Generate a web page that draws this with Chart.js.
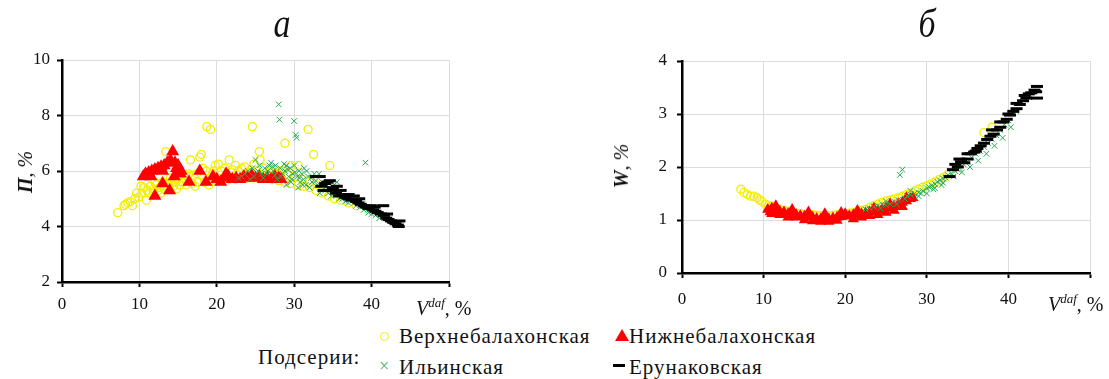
<!DOCTYPE html>
<html>
<head>
<meta charset="utf-8">
<script src="https://cdn.jsdelivr.net/npm/chart.js@4.4.0/dist/chart.umd.min.js"></script>
<style>
  body { margin: 0; background: #fff; width: 1109px; height: 379px; overflow: hidden; position: relative; font-family: 'Liberation Serif', 'Times New Roman', serif; color: #111; }
  canvas { position: absolute; top: 0; }
  .t { position: absolute; white-space: nowrap; line-height: 1; }
  .ttl { font-size: 40px; font-style: italic; width: 60px; text-align: center; transform: scaleX(0.85); }
  .ax { font-size: 20px; }
  .rot { transform: translate(-50%, -50%) rotate(-90deg); }
  .leg { font-size: 21px; letter-spacing: 1px; }
  .mk { position: absolute; }
</style>
</head>
<body>
<canvas id="chartA" width="470" height="320" style="left:0"></canvas>
<canvas id="chartB" width="509" height="320" style="left:600px"></canvas>

<div class="t ttl" style="left:252px; top:4px;">а</div>
<div class="t ttl" style="left:897px; top:4px;">б</div>

<div class="t ax rot" style="left:25px; top:172px;"><b><i>П</i></b><i>, %</i></div>
<div class="t ax rot" style="left:621px; top:166px;"><b><i>W</i></b><i>, %</i></div>
<div class="t ax" style="left:416px; top:296px;"><i>V</i><sup style="font-size:13px; font-style:italic;">daf</sup>, %</div>
<div class="t ax" style="left:1048px; top:292px;"><i>V</i><sup style="font-size:13px; font-style:italic;">daf</sup>, %</div>

<div class="t leg" style="left:258px; top:347px;">Подсерии:</div>
<div class="mk" style="left:380px; top:332px; width:9px; height:9px; border:1.3px solid #f2ee00; border-radius:50%; box-sizing:border-box;"></div>
<div class="t leg" style="left:399px; top:326px;">Верхнебалахонская</div>
<div class="t" style="left:379px; top:357px; font-size:18px; color:#3cb371;">×</div>
<div class="t leg" style="left:399px; top:357px;">Ильинская</div>
<div class="mk" style="left:615px; top:329px; width:0; height:0; border-left:7px solid transparent; border-right:7px solid transparent; border-bottom:12px solid #ff0000;"></div>
<div class="t leg" style="left:629px; top:326px;">Нижнебалахонская</div>
<div class="mk" style="left:613px; top:364px; width:12px; height:3px; background:#000;"></div>
<div class="t leg" style="left:629px; top:357px;">Ерунаковская</div>

<script>
// а: П vs Vdaf
const aVerkh = [[7.2,4.5],[8.0,4.75],[8.2,4.8],[8.5,4.85],[8.8,4.9],[9.1,4.75],[9.4,5.0],[9.6,5.2],[9.9,5.05],[10.3,5.2],[10.6,5.4],[10.9,4.95],[11.0,5.3],[11.4,5.45],[11.8,5.35],[12.2,5.5],[12.6,5.4],[13.0,5.6],[13.4,6.7],[13.8,5.55],[14.2,5.65],[14.6,5.6],[15.0,5.7],[15.4,5.85],[15.8,5.75],[16.2,5.8],[16.6,6.4],[17.0,5.85],[17.4,5.9],[17.8,6.5],[18.0,6.6],[18.2,6.1],[18.6,6.0],[18.7,7.6],[19.2,7.5],[19.4,5.9],[19.8,6.2],[20.2,6.25],[20.6,6.0],[21.0,6.1],[21.6,6.4],[21.8,5.95],[22.0,6.05],[22.4,6.2],[22.8,6.0],[23.2,6.1],[23.6,6.15],[24.0,5.95],[24.4,6.05],[24.6,7.6],[24.8,6.25],[25.2,6.0],[25.5,6.7],[25.6,6.4],[26.0,6.1],[26.4,5.95],[26.8,6.0],[27.2,6.05],[27.6,5.9],[28.0,5.9],[28.4,6.0],[28.8,7.0],[29.2,5.85],[29.6,6.2],[30.0,5.8],[30.5,6.2],[31.0,5.7],[31.8,7.5],[32.0,5.6],[32.5,6.6],[33.0,5.5],[34.6,6.2],
  [11.2,5.2],[11.8,5.25],[12.4,5.3],[13.2,5.35],[13.8,5.4],[14.4,5.45],[15.2,5.5],[16.0,5.5],[16.8,5.55],[17.6,5.6],[18.4,5.6],[19.2,5.65],[20.0,5.65],[20.8,5.7],[21.6,5.7],[22.4,5.7],[23.2,5.75],[24.0,5.75],[24.8,5.75],[25.6,5.75],[26.4,5.75],[27.2,5.7],[28.0,5.65],[28.8,5.6],[29.6,5.55],[30.4,5.5],[31.2,5.45],[32.0,5.4],[32.8,5.3],[33.6,5.2],[34.4,5.1],[35.2,5.0],[36.0,4.95],[37.0,4.85],[38.0,4.75],
  [10.2,5.45],[12.0,5.6],[12.8,5.2],[14.0,5.75],[14.8,5.35],[15.6,5.6],[16.4,5.9],[17.2,5.45],[18.0,5.85],[19.0,5.5],[19.6,6.0]];
const aNizh = [[10.5,5.8],[10.8,5.9],[11.2,5.95],[11.6,6.0],[12.0,6.05],[12.4,6.1],[12.8,6.15],[13.2,6.2],[13.6,6.3],[14.0,6.4],[14.3,6.7],[14.6,6.3],[15.0,6.2],[15.4,6.0],[14.8,6.1],[13.0,6.0],[11.5,5.8],
  [12.0,5.1],[13.0,5.55],[13.9,5.3],[14.5,5.8],[15.3,5.9],[16.4,5.6],[17.8,6.0],[18.6,5.6],[19.5,5.8],[20.0,5.7],[20.5,5.6],[21.0,5.75],[21.2,5.9],[21.5,5.8],[22.0,5.7],[22.5,5.75],[23.0,5.7],[23.5,5.8],[24.0,5.75],[24.5,5.85],[25.0,5.75],[25.5,5.8],[26.0,5.7],[26.5,5.75],[27.0,5.7],[27.5,5.8],[28.0,5.75],[28.3,5.7]];
const aIlyin = [[22.8,5.75],[23.2,5.8],[23.6,5.9],[24.0,6.0],[24.3,5.7],[24.6,6.1],[24.8,5.8],[25.0,6.4],[25.3,6.0],[25.5,6.2],[25.8,5.9],[26.0,5.75],[26.2,6.1],[26.5,5.9],[26.6,6.0],[26.8,6.2],[27.0,6.3],[27.2,6.15],[27.3,6.0],[27.5,5.85],[27.6,6.2],[27.8,5.7],[28.0,8.4],[28.1,7.85],[28.2,6.1],[28.3,5.8],[28.5,5.9],[28.7,6.25],[28.8,6.0],[29.0,6.2],[29.0,5.5],[29.2,6.05],[29.3,5.8],[29.5,6.1],[29.6,5.6],[29.7,5.7],[29.8,5.9],[30.0,6.2],[30.0,7.8],[30.1,5.95],[30.2,7.3],[30.3,7.2],[30.4,5.8],[30.5,5.4],[30.6,6.0],[30.7,5.75],[30.8,5.6],[31.0,5.9],[31.1,5.5],[31.2,5.7],[31.3,6.1],[31.5,5.5],[31.6,6.0],[31.8,5.8],[32.0,5.4],[32.2,5.75],[32.3,5.6],[32.6,5.9],[32.8,5.65],[33.0,5.5],[33.2,5.9],[33.3,5.2],[33.6,5.6],[34.0,5.3],[34.2,5.45],[34.4,5.2],[34.8,5.1],[35.0,5.3],[35.2,5.5],[35.5,5.6],[35.8,5.0],[36.0,5.2],[36.2,5.0],[36.6,4.9],[36.8,5.05],[37.0,4.85],[37.5,5.1],[37.8,4.95],[38.0,4.75],[38.5,4.7],[38.8,4.8],[39.0,4.6],[39.2,6.3],[39.6,4.5],[40.0,4.45],[40.2,4.6],[40.5,4.4],[41.0,4.3],[41.5,4.4]];
const aErun = [[32.8,5.8],[33.3,5.8],[33.5,5.45],[33.8,5.3],[34.0,5.55],[34.3,5.6],[34.6,5.65],[34.8,5.3],[35.0,5.4],[35.4,5.2],[35.5,5.45],[35.8,5.1],[36.0,5.3],[36.2,5.15],[36.6,5.05],[37.0,5.0],[37.0,5.15],[37.4,4.95],[37.7,5.1],[38.0,4.9],[38.3,4.85],[38.4,5.0],[38.6,4.8],[39.0,4.75],[39.3,4.7],[39.6,4.65],[39.9,4.75],[40.2,4.6],[40.4,4.7],[40.5,4.55],[40.8,4.5],[41.2,4.45],[41.5,4.75],[41.6,4.4],[41.9,4.3],[42.0,4.45],[42.2,4.25],[42.5,4.2],[42.8,4.15],[43.1,4.1],[43.4,4.05],[43.5,4.0],[43.6,4.2]];

// б: W vs Vdaf
const bVerkh = [[7.2,1.58],[7.6,1.52],[8.0,1.48],[8.4,1.45],[8.8,1.45],[9.2,1.42],[9.5,1.38],[9.8,1.35],[10.2,1.3],[10.6,1.27],[11.0,1.26],[11.5,1.22],[12.0,1.2],[12.5,1.18],[13.0,1.16],[13.5,1.15],[14.0,1.13],[14.5,1.12],[15.0,1.1],[15.5,1.1],[16.0,1.1],[16.5,1.09],[17.0,1.08],[17.5,1.08],[18.0,1.08],[18.5,1.09],[19.0,1.1],[19.5,1.1],[20.0,1.12],[20.5,1.13],[21.0,1.14],[21.5,1.16],[22.0,1.18],[22.5,1.2],[23.0,1.24],[23.5,1.27],[24.0,1.3],[24.5,1.33],[25.0,1.36],[25.5,1.38],[26.0,1.4],[26.5,1.42],[27.0,1.45],[27.5,1.48],[28.0,1.5],[28.5,1.55],[29.0,1.58],[29.5,1.62],[30.0,1.65],[30.5,1.68],[31.0,1.72],[31.5,1.76],[32.0,1.8],[32.5,1.85],[37.0,2.65],[38.0,2.75]];
const bNizh = [[10.5,1.2],[10.8,1.15],[11.0,1.22],[11.0,1.12],[11.5,1.18],[11.5,1.27],[12.0,1.16],[12.0,1.1],[12.5,1.15],[12.5,1.1],[13.0,1.12],[13.0,1.05],[13.5,1.1],[13.5,1.2],[14.0,1.1],[14.0,1.05],[14.5,1.08],[15.0,1.07],[15.0,1.0],[15.5,1.06],[15.5,1.15],[16.0,1.05],[16.0,0.98],[16.5,1.03],[17.0,1.02],[17.0,0.97],[17.5,1.0],[17.5,1.12],[18.0,1.02],[18.0,0.97],[18.5,1.04],[19.0,1.05],[19.0,0.99],[19.5,1.06],[19.5,1.14],[20.0,1.07],[20.0,1.12],[20.5,1.08],[21.0,1.1],[21.0,1.02],[21.5,1.1],[21.5,1.18],[22.0,1.12],[22.0,1.05],[22.5,1.13],[23.0,1.15],[23.0,1.08],[23.5,1.17],[23.5,1.22],[24.0,1.18],[24.0,1.1],[24.5,1.2],[25.0,1.22],[25.0,1.14],[25.5,1.24],[25.5,1.3],[26.0,1.26],[26.0,1.18],[26.5,1.3],[27.0,1.33],[27.0,1.25],[27.5,1.36],[27.5,1.42],[28.0,1.4],[28.3,1.42]];
const bIlyin = [[22.5,1.2],[23.0,1.22],[23.5,1.25],[24.0,1.27],[24.3,1.22],[24.5,1.3],[25.0,1.28],[25.0,1.35],[25.5,1.3],[26.0,1.35],[26.3,1.3],[26.5,1.38],[26.7,1.85],[27.0,1.95],[27.3,1.4],[27.6,1.45],[28.0,1.48],[28.0,1.55],[28.5,1.5],[29.0,1.52],[29.0,1.45],[29.3,1.5],[29.5,1.55],[30.0,1.6],[30.0,1.5],[30.3,1.62],[30.6,1.65],[30.8,1.58],[31.0,1.68],[31.0,1.6],[31.3,1.72],[31.6,1.75],[31.8,1.66],[32.0,1.78],[32.0,1.7],[32.3,1.8],[32.6,1.85],[33.0,1.88],[33.3,1.82],[33.5,1.92],[33.8,1.95],[34.0,1.98],[34.3,1.9],[34.5,2.05],[35.0,2.1],[35.3,2.0],[35.5,2.18],[36.0,2.25],[36.3,2.12],[36.5,2.3],[37.0,2.38],[37.3,2.25],[37.5,2.45],[38.0,2.52],[38.3,2.4],[38.5,2.6],[39.0,2.7],[39.3,2.55],[39.5,2.8],[40.0,2.88],[40.3,2.75],[41.0,3.05]];
const bErun = [[32.8,1.82],[33.2,1.95],[33.5,2.05],[33.8,2.0],[34.0,2.15],[34.2,2.1],[34.6,2.08],[35.0,2.15],[35.0,2.25],[35.4,2.25],[35.8,2.28],[36.0,2.3],[36.2,2.35],[36.6,2.4],[37.0,2.45],[37.4,2.52],[37.8,2.58],[38.0,2.7],[38.2,2.62],[38.6,2.7],[39.0,2.75],[39.0,2.85],[39.4,2.85],[39.8,2.9],[40.0,3.0],[40.2,2.98],[40.6,3.05],[41.0,3.1],[41.0,3.2],[41.4,3.18],[41.8,3.25],[42.0,3.35],[42.2,3.3],[42.5,3.38],[42.8,3.4],[43.2,3.45],[43.4,3.42],[43.5,3.52],[43.5,3.3]];

const seriesNames = ['Верхнебалахонская', 'Нижнебалахонская', 'Ильинская', 'Ерунаковская'];

const pts = arr => arr.map(p => ({ x: p[0], y: p[1] }));
const tickFont = { family: "'Liberation Serif', 'Times New Roman', serif", size: 17 };

function makeDatasets(verkh, nizh, ilyin, erun, triR) {
  return [
    { label: seriesNames[0], data: pts(verkh), order: 4, pointStyle: 'circle', pointRadius: 4,
      borderColor: '#f2ee00', backgroundColor: 'rgba(0,0,0,0)', borderWidth: 1.3 },
    { label: seriesNames[1], data: pts(nizh), order: 3, pointStyle: 'triangle', pointRadius: triR,
      borderColor: '#ff0000', backgroundColor: '#ff0000', borderWidth: 0 },
    { label: seriesNames[2], data: pts(ilyin), order: 2, pointStyle: 'crossRot', pointRadius: 4,
      borderColor: '#27a957', backgroundColor: '#27a957', borderWidth: 1 },
    { label: seriesNames[3], data: pts(erun), order: 1, pointStyle: 'line', pointRadius: 6,
      borderColor: '#000', backgroundColor: '#000', borderWidth: 3 }
  ];
}

function makeOptions(yMin, yMax, yStep, yW, xH, pad, yPad, xPad) {
  return {
    responsive: false,
    animation: false,
    events: [],
    layout: { padding: pad },
    plugins: { legend: { display: false }, tooltip: { enabled: false } },
    scales: {
      x: {
        type: 'linear', min: 0, max: 50,
        afterFit: s => { s.height = xH; },
        ticks: { stepSize: 10, padding: xPad, color: '#111', font: tickFont,
          callback: v => (v === 50 ? '' : v), maxRotation: 0 },
        grid: { color: '#dcdcdc', lineWidth: 1, tickColor: '#000', tickWidth: 2, tickLength: 5 },
        border: { color: '#000', width: 2.5 }
      },
      y: {
        min: yMin, max: yMax,
        afterFit: s => { s.width = yW; },
        ticks: { stepSize: yStep, padding: yPad, color: '#111', font: tickFont },
        grid: { color: '#dcdcdc', lineWidth: 1, tickColor: '#000', tickWidth: 2, tickLength: 5 },
        border: { color: '#000', width: 2.5 }
      }
    }
  };
}

new Chart(document.getElementById('chartA'), {
  type: 'scatter',
  data: { datasets: makeDatasets(aVerkh, aNizh, aIlyin, aErun, 7.5) },
  options: makeOptions(2, 10, 2, 62, 38, { left: 0, top: 60, right: 21, bottom: 0 }, 7, 7)
});

new Chart(document.getElementById('chartB'), {
  type: 'scatter',
  data: { datasets: makeDatasets(bVerkh, bNizh, bIlyin, bErun, 6.5) },
  options: makeOptions(0, 4, 1, 82, 47, { left: 0, top: 61, right: 19, bottom: 0 }, 10, 11)
});
</script>
</body>
</html>
